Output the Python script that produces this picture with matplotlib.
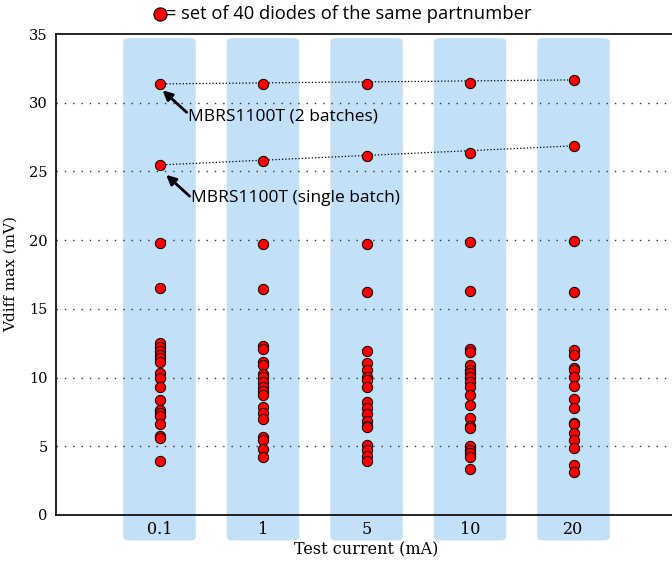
import matplotlib

matplotlib.use("Agg")
import matplotlib.pyplot as plt
from matplotlib.lines import Line2D
from matplotlib.patches import FancyBboxPatch

# test currents (mA) shown as categories
currents = ["0.1", "1", "5", "10", "20"]

# Vdiff max (mV) per partnumber, one list per test current
vdiff_01 = [31.37, 25.47, 19.8, 16.52, 12.55, 12.25, 11.95, 11.65, 11.4, 11.1,
            10.3, 10.0, 9.35, 8.4, 7.65, 7.4, 7.2, 6.6, 5.75, 5.6, 3.9]
vdiff_1 = [31.37, 25.76, 19.72, 16.45, 12.28, 12.06, 11.16, 10.92, 10.24, 10.02,
           9.7, 9.34, 9.05, 8.73, 7.84, 7.45, 6.97, 5.65, 5.46, 4.78, 4.2]
vdiff_5 = [31.37, 26.13, 19.72, 16.23, 11.94, 11.09, 10.55, 10.02, 9.83, 9.34,
           8.25, 7.81, 7.33, 6.84, 6.48, 6.38, 5.09, 4.73, 4.29, 3.93]
vdiff_10 = [31.44, 26.35, 19.87, 16.3, 12.06, 11.84, 10.92, 10.55, 10.31, 10.02,
            9.7, 9.34, 8.73, 8.0, 7.04, 6.48, 6.31, 5.02, 4.73, 4.49, 4.2, 3.35]
vdiff_20 = [31.66, 26.86, 19.94, 16.23, 12.0, 11.64, 10.67, 10.55, 10.02, 9.41,
            8.44, 7.81, 6.72, 6.62, 5.94, 5.46, 4.85, 3.64, 3.11]

all_series = [vdiff_01, vdiff_1, vdiff_5, vdiff_10, vdiff_20]

# MBRS1100T trend lines
mbrs_two_batches = [31.37, 31.66]
mbrs_single_batch = [25.47, 26.86]

serif = ["DejaVu Serif"]
sans = ["Open Sans", "DejaVu Sans"]

fig = plt.figure(figsize=(6.72, 5.61), dpi=100)
ax = fig.add_axes([56 / 672, 46 / 561, 621 / 672, 481 / 561])

# light blue rounded columns behind each category (run below the axis)
for i in range(len(currents)):
    box = FancyBboxPatch((i + 1 - 0.35, -1.85), 0.7, 36.55,
                         boxstyle="round,pad=0,rounding_size=0.06",
                         mutation_aspect=35 / 6 * 481 / 621,
                         facecolor="#c2e0f8", edgecolor="none",
                         clip_on=False, zorder=0)
    ax.add_patch(box)

for y in range(5, 35, 5):
    ax.axhline(y, color="#333333", linestyle=(0, (1, 5)), linewidth=1.0, zorder=1)

for i, vals in enumerate(all_series):
    ax.scatter([i + 1] * len(vals), vals, s=55, color="red",
               edgecolors="black", linewidths=0.7, zorder=3)

ax.plot([1, 5], mbrs_two_batches, color="black", linestyle=":", linewidth=0.9, zorder=2)
ax.plot([1, 5], mbrs_single_batch, color="black", linestyle=":", linewidth=0.9, zorder=2)

arrow = dict(arrowstyle="-|>", color="black", lw=2.0, mutation_scale=14,
             shrinkA=0, shrinkB=0)
ax.text(1.272, 28.97, "MBRS1100T (2 batches)", fontsize=12.5, family=sans,
        ha="left", va="center", zorder=4)
ax.annotate("", xy=(1.03, 30.9), xytext=(1.262, 29.3), arrowprops=arrow, zorder=4)
ax.text(1.3, 23.05, "MBRS1100T (single batch)", fontsize=12.5, family=sans,
        ha="left", va="center", zorder=4)
ax.annotate("", xy=(1.065, 24.75), xytext=(1.29, 23.2), arrowprops=arrow, zorder=4)

ax.set_xlim(0, 6)
ax.set_ylim(0, 35)
ax.set_xticks(range(1, len(currents) + 1))
ax.set_xticklabels(currents, family=serif, fontsize=11.5)
ax.set_yticks(range(0, 36, 5))
ax.set_yticklabels([str(v) for v in range(0, 36, 5)], family=serif, fontsize=10.5)
ax.tick_params(axis="both", length=0)
ax.tick_params(axis="x", pad=4)
ax.tick_params(axis="y", pad=6)

ax.set_xlabel("Test current (mA)", family=serif, fontsize=11.5, labelpad=3)
ax.set_ylabel("Vdiff max (mV)", family=serif, fontsize=11, labelpad=8)

for side in ["left", "bottom", "top"]:
    ax.spines[side].set_color("black")
    ax.spines[side].set_linewidth(1.2)
ax.spines["right"].set_visible(False)

# legend-like title: marker + explanation
fig.add_artist(Line2D([160 / 672], [1 - 14 / 561], transform=fig.transFigure,
                      marker="o", markersize=9.5, markerfacecolor="red",
                      markeredgecolor="black", markeredgewidth=0.8, linestyle="none"))
fig.text(166 / 672, 1 - 14 / 561, "= set of 40 diodes of the same partnumber",
         fontsize=13.2, family=sans, ha="left", va="center")

fig.savefig("out.png", dpi=100)
